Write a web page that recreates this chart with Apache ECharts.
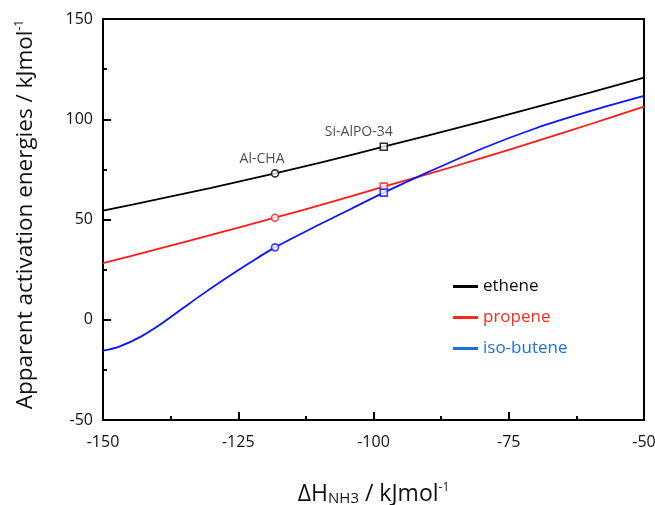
<!DOCTYPE html>
<html>
<head>
<meta charset="utf-8">
<title>Apparent activation energies</title>
<script src="https://cdn.jsdelivr.net/npm/echarts@6/dist/echarts.min.js"></script>
<style>
  html, body { margin: 0; padding: 0; background: #fff; }
  #main { width: 655px; height: 505px; }
</style>
</head>
<body>
<div id="main"></div>
<script>
// values (kJ/mol)
var ethene = [[-150, 54.4], [-140, 60], [-130, 65.8], [-118.2, 73], [-110, 78.2], [-98.1, 86.3],
              [-90, 91.8], [-80, 98.8], [-70, 106], [-60, 113.3], [-50, 120.8]];
var propene = [[-150, 28.2], [-140, 35.2], [-130, 42.3], [-118.2, 50.9], [-110, 57], [-98.1, 66.4],
               [-90, 72.6], [-80, 80.6], [-70, 89], [-60, 97.5], [-50, 106.3]];
var isobutene = [[-150, -15.4], [-147, -13.4], [-143, -8.4], [-139, -1.6], [-135, 6.2], [-131, 13.9],
                 [-127, 21.2], [-123, 28.2], [-118.2, 36.1], [-110, 47.5], [-104, 55.5],
                 [-98.1, 63.4], [-90, 73.5], [-80, 85.3], [-70, 95.5], [-60, 104], [-50, 111.6]];
// catalyst markers: Al-CHA (circle), Si-AlPO-34 (square)
var catalysts = ['Al-CHA', 'Si-AlPO-34'];
var catX = [-118.2, -98.1];
var etheneMark = [73, 86.3];
var propeneMark = [50.9, 66.4];
var isobuteneMark = [36.1, 63.4];

var FONT = 'Open Sans';
var myChart = echarts.init(document.getElementById('main'));

function marks(vals, color, withLabel) {
    var out = [];
    for (var i = 0; i < vals.length; i++) {
        var item = {
            name: catalysts[i],
            value: [catX[i], vals[i]],
            symbol: i == 0 ? 'circle' : 'rect',
            symbolSize: 7
        };
        if (withLabel) {
            item.label = {
                show: true, position: 'top', formatter: '{b}',
                distance: 3, offset: [i == 0 ? -13 : -25, 0],
                color: '#222', fontFamily: FONT, fontSize: 14
            };
        }
        out.push(item);
    }
    return {
        type: 'scatter', data: out, z: 5,
        itemStyle: { color: '#fff', borderColor: color, borderWidth: 1.6 },
        silent: true
    };
}

function lineSeries(name, data, color) {
    return {
        name: name, type: 'line', data: data, smooth: 0.3,
        symbol: 'none', lineStyle: { color: color, width: 1.8 }, itemStyle: { color: color }
    };
}

var option = {
    animation: false,
    grid: {
        left: 103, right: 11, top: 19, bottom: 85,
        outerBoundsMode: 'none',
        show: true, borderColor: '#000', borderWidth: 2
    },
    legend: {
        orient: 'vertical', left: 448, top: 273, itemGap: 14,
        itemWidth: 25, itemHeight: 3, icon: 'rect',
        textStyle: { fontFamily: FONT, fontSize: 17 },
        data: [
            { name: 'ethene', textStyle: { color: '#111' }, itemStyle: { color: '#000' } },
            { name: 'propene', textStyle: { color: '#ff2a1a' }, itemStyle: { color: '#ff2a1a' } },
            { name: 'iso-butene', textStyle: { color: '#1f6fdc' }, itemStyle: { color: '#1f6fdc' } }
        ]
    },
    xAxis: {
        type: 'value', min: -150, max: -50, interval: 25,
        axisLine: { onZero: false, lineStyle: { color: '#000', width: 2 } },
        axisTick: { inside: true, length: 8, lineStyle: { width: 2 } },
        minorTick: { show: true, splitNumber: 2, length: 4, lineStyle: { color: '#000', width: 2 } },
        splitLine: { show: false },
        axisLabel: { color: '#111', fontFamily: FONT, fontSize: 16, margin: 14 },
        name: '{a|ΔH}{b|NH3}{a| / kJmol}{c|-1}',
        nameLocation: 'middle', nameGap: 62,
        nameTextStyle: {
            rich: {
                a: { fontFamily: FONT, fontSize: 23, color: '#111' },
                b: { fontFamily: FONT, fontSize: 15, color: '#111', verticalAlign: 'bottom', padding: [9, 0, 0, 0] },
                c: { fontFamily: FONT, fontSize: 12, color: '#111', verticalAlign: 'top', padding: [0, 0, 11, 0] }
            }
        }
    },
    yAxis: {
        type: 'value', min: -50, max: 150, interval: 50,
        axisLine: { onZero: false, lineStyle: { color: '#000', width: 2 } },
        axisTick: { inside: true, length: 8, lineStyle: { width: 2 } },
        minorTick: { show: true, splitNumber: 2, length: 4, lineStyle: { color: '#000', width: 2 } },
        splitLine: { show: false },
        axisLabel: { color: '#111', fontFamily: FONT, fontSize: 16, margin: 10 },
        name: '{a|Apparent activation energies / kJmol}{c|-1}',
        nameLocation: 'middle', nameGap: 66, nameRotate: 90,
        nameTextStyle: {
            padding: [0, 0, 0, 10],
            rich: {
                a: { fontFamily: FONT, fontSize: 22.5, color: '#111' },
                c: { fontFamily: FONT, fontSize: 12, color: '#111', verticalAlign: 'top', padding: [0, 0, 11, 0] }
            }
        }
    },
    series: [
        lineSeries('ethene', ethene, '#000'),
        lineSeries('propene', propene, '#ff1a1a'),
        lineSeries('iso-butene', isobutene, '#0a14ff'),
        marks(etheneMark, '#000', true),
        marks(propeneMark, '#ff1a1a', false),
        marks(isobuteneMark, '#0a14ff', false)
    ]
};

myChart.setOption(option);
</script>
</body>
</html>
